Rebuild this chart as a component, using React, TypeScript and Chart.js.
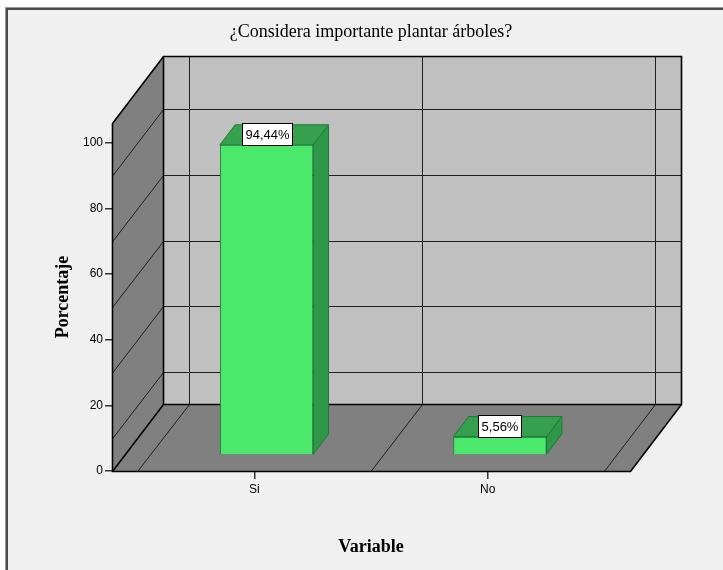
import { useEffect, useRef } from 'react';
import { Chart, registerables } from 'chart.js';

Chart.register(...registerables);

// ---- data ----
const TITLE = '¿Considera importante plantar árboles?';
const X_TITLE = 'Variable';
const Y_TITLE = 'Porcentaje';
const categories = ['Si', 'No'];
const percentages = [94.44, 5.56];
const yTickValues = [0, 20, 40, 60, 80, 100];

// ---- axis ranges / 3D look ----
const Y_MIN = 0;
const Y_MAX = 106;
const X_MIN = -0.61;
const X_MAX = 1.61;
const DEPTH_X = 51;
const DEPTH_Y = 67;
const BAR_FRONT = 0.24;
const BAR_BACK = 0.54;

const SERIF = '"Liberation Serif", "Times New Roman", serif';
const SANS = '"Liberation Sans", Arial, sans-serif';

type Pt = [number, number];

function poly(ctx: CanvasRenderingContext2D, pts: Pt[], fill?: string, stroke?: string, lw = 1) {
  ctx.beginPath();
  ctx.moveTo(pts[0][0], pts[0][1]);
  for (let i = 1; i < pts.length; i++) ctx.lineTo(pts[i][0], pts[i][1]);
  ctx.closePath();
  if (fill) {
    ctx.fillStyle = fill;
    ctx.fill();
  }
  if (stroke) {
    ctx.strokeStyle = stroke;
    ctx.lineWidth = lw;
    ctx.stroke();
  }
}

function path(ctx: CanvasRenderingContext2D, pts: Pt[], stroke: string, lw: number) {
  ctx.beginPath();
  ctx.moveTo(pts[0][0], pts[0][1]);
  for (let i = 1; i < pts.length; i++) ctx.lineTo(pts[i][0], pts[i][1]);
  ctx.strokeStyle = stroke;
  ctx.lineWidth = lw;
  ctx.stroke();
}

const h = (v: number) => Math.round(v) + 0.5;

const chart3d = {
  id: 'chart3d',
  beforeDraw(chart: any) {
    const { ctx, width, height } = chart;
    ctx.save();
    ctx.fillStyle = '#ffffff';
    ctx.fillRect(0, 0, width, height);
    ctx.fillStyle = '#f0f0f0';
    ctx.fillRect(6, 8, width - 6, height - 8);
    ctx.fillStyle = '#9a9a9a';
    ctx.fillRect(5, 7, 1, height - 7);
    ctx.fillRect(5, 7, width - 5, 1);
    ctx.fillStyle = '#4a4a4a';
    ctx.fillRect(6, 8, 2, height - 8);
    ctx.fillRect(6, 8, width - 6, 2);
    ctx.restore();
  },
  beforeDatasetsDraw(chart: any) {
    const { ctx } = chart;
    const xs = chart.scales.x;
    const ys = chart.scales.y;
    const L = h(xs.getPixelForValue(X_MIN));
    const R = h(xs.getPixelForValue(X_MAX));
    const B = h(ys.getPixelForValue(Y_MIN));
    const T = h(ys.getPixelForValue(Y_MAX));
    const dx = DEPTH_X;
    const dy = DEPTH_Y;
    ctx.save();
    // walls
    poly(ctx, [[L + dx, T - dy], [R + dx, T - dy], [R + dx, B - dy], [L + dx, B - dy]], '#c0c0c0');
    poly(ctx, [[L, B], [L, T], [L + dx, T - dy], [L + dx, B - dy]], '#808080');
    poly(ctx, [[L, B], [R, B], [R + dx, B - dy], [L + dx, B - dy]], '#808080');
    // value grid lines
    yTickValues.filter((v) => v > Y_MIN).forEach((v) => {
      const y = ys.getPixelForValue(v);
      const yb = h(y - dy / 2);
      path(ctx, [[L, y + dy / 2], [L + dx, yb], [R + dx, yb]], '#1e1e1e', 1);
    });
    // category boundaries
    for (let i = 0; i <= categories.length; i++) {
      const xb = xs.getPixelForValue(i - 0.5);
      const xbb = h(xb + dx);
      path(ctx, [[xb, B], [xbb, B - dy], [xbb, T - dy]], '#1e1e1e', 1);
    }
    // edges
    const E = '#000000';
    const lw = 1.6;
    path(ctx, [[L, T], [L, B], [R, B], [R + dx, B - dy], [R + dx, T - dy], [L + dx, T - dy], [L, T]], E, lw);
    path(ctx, [[L, B], [L + dx, B - dy], [R + dx, B - dy]], E, lw);
    path(ctx, [[L + dx, T - dy], [L + dx, B - dy]], E, lw);
    ctx.restore();

    ctx.save();
    ctx.translate(BAR_FRONT * dx, -BAR_FRONT * dy);
  },
  afterDatasetsDraw(chart: any) {
    const { ctx } = chart;
    ctx.restore();
    const fx = BAR_FRONT * DEPTH_X;
    const fy = -BAR_FRONT * DEPTH_Y;
    const ddx = (BAR_BACK - BAR_FRONT) * DEPTH_X;
    const ddy = -(BAR_BACK - BAR_FRONT) * DEPTH_Y;
    const meta = chart.getDatasetMeta(0);
    ctx.save();
    meta.data.forEach((el: any) => {
      const { x, y, base, width } = el.getProps(['x', 'y', 'base', 'width'], true);
      const left = x - width / 2 + fx;
      const right = x + width / 2 + fx;
      const top = y + fy;
      const bottom = base + fy;
      poly(ctx, [[left, top], [right, top], [right + ddx, top + ddy], [left + ddx, top + ddy]], '#36a04f', '#1c7a36', 1);
      poly(ctx, [[right, top], [right + ddx, top + ddy], [right + ddx, bottom + ddy], [right, bottom]], '#2f9848', '#1c7a36', 1);
    });
    // value labels
    ctx.font = `13px ${SANS}`;
    ctx.textAlign = 'center';
    ctx.textBaseline = 'middle';
    meta.data.forEach((el: any, i: number) => {
      const { x, y } = el.getProps(['x', 'y'], true);
      const text = `${percentages[i].toFixed(2).replace('.', ',')}%`;
      const tw = ctx.measureText(text).width;
      const bw = Math.round(tw + 6);
      const bh = 22;
      const cx = x + fx;
      const bottom = Math.round(y + fy);
      const bl = Math.round(cx - bw / 2) + 0.5;
      const bt = bottom - bh + 0.5;
      ctx.fillStyle = '#ffffff';
      ctx.fillRect(bl, bt, bw, bh);
      ctx.strokeStyle = '#000000';
      ctx.lineWidth = 1;
      ctx.strokeRect(bl, bt, bw, bh);
      ctx.fillStyle = '#000000';
      ctx.fillText(text, bl + bw / 2, bt + bh / 2 + 0.5);
    });
    ctx.restore();
  },
};

export default function App() {
  const ref = useRef<HTMLCanvasElement>(null);
  useEffect(() => {
    if (!ref.current) return;
    const chart = new Chart(ref.current, {
      type: 'bar',
      data: {
        datasets: [
          {
            data: categories.map((c, i) => ({ x: i, y: percentages[i] })),
            backgroundColor: '#4be96b',
            borderColor: '#1c7a36',
            borderWidth: 1,
            barPercentage: 0.4,
            categoryPercentage: 1,
          },
        ],
      },
      options: {
        responsive: false,
        animation: false,
        devicePixelRatio: 1,
        layout: { padding: { left: 0, right: 93, top: 0, bottom: 0 } },
        plugins: {
          legend: { display: false },
          tooltip: { enabled: false },
          title: {
            display: true,
            text: TITLE,
            fullSize: false,
            color: '#000000',
            font: { family: SERIF, size: 18, weight: 'normal', lineHeight: 1.2 },
            padding: { top: 21.2, bottom: 80.2 },
          },
        },
        scales: {
          x: {
            type: 'linear',
            position: 'bottom',
            min: X_MIN,
            max: X_MAX,
            offset: false,
            afterBuildTicks: (s: any) => {
              s.ticks = categories.map((c, i) => ({ value: i }));
            },
            afterFit: (s: any) => {
              s.height = 99;
            },
            ticks: {
              callback: (v: any) => categories[v] ?? '',
              color: '#000000',
              font: { family: SANS, size: 12 },
              padding: 3,
              maxRotation: 0,
              autoSkip: false,
            },
            grid: { drawOnChartArea: false, drawTicks: true, tickLength: 8, color: '#333333', lineWidth: 1.5, offset: false },
            border: { display: false },
            title: {
              display: true,
              text: X_TITLE,
              color: '#000000',
              font: { family: SERIF, size: 18, weight: 'bold', lineHeight: 1.2 },
              padding: { top: 0, bottom: 12.2 },
            },
          },
          y: {
            type: 'linear',
            min: Y_MIN,
            max: Y_MAX,
            afterBuildTicks: (s: any) => {
              s.ticks = yTickValues.map((v) => ({ value: v }));
            },
            afterFit: (s: any) => {
              s.width = 112;
            },
            ticks: {
              color: '#000000',
              font: { family: SANS, size: 12 },
              padding: 2,
            },
            grid: { drawOnChartArea: false, drawTicks: true, tickLength: 7, color: '#333333', lineWidth: 1.5 },
            border: { display: false },
            title: {
              display: true,
              text: Y_TITLE,
              color: '#000000',
              font: { family: SERIF, size: 18, weight: 'bold', lineHeight: 1.2 },
              padding: { top: 52.2, bottom: 0 },
            },
          },
        },
      },
      plugins: [chart3d],
    } as any);
    return () => chart.destroy();
  }, []);
  return (
    <div style={{ position: 'absolute', left: 0, top: 0, width: 723, height: 570 }}>
      <canvas ref={ref} width={723} height={570} style={{ display: 'block', width: 723, height: 570 }} />
    </div>
  );
}
